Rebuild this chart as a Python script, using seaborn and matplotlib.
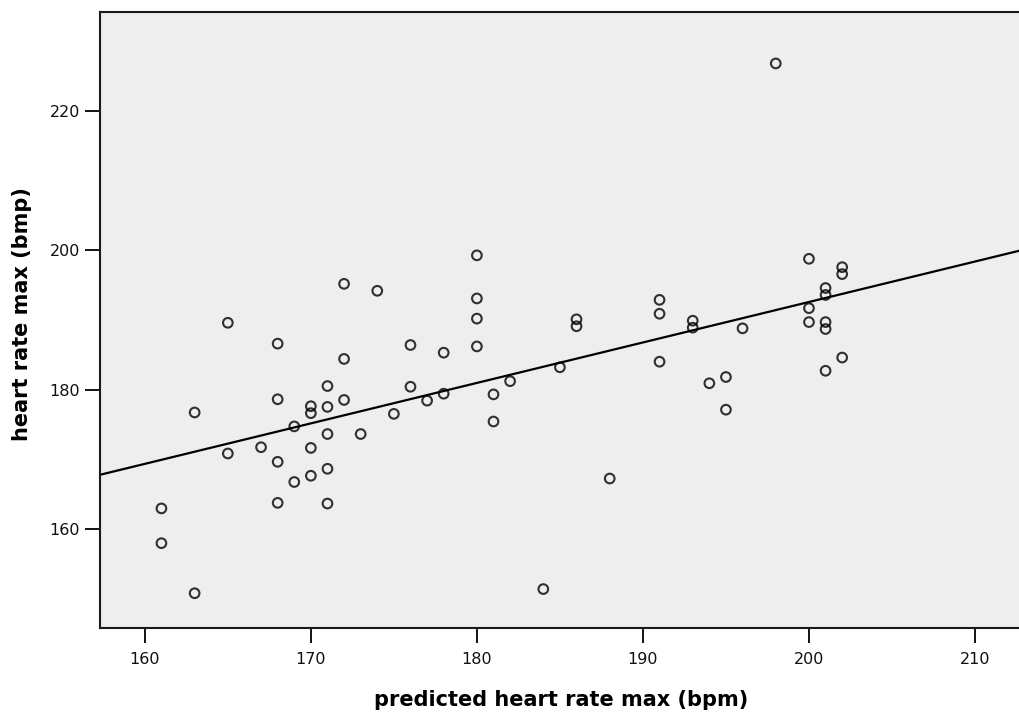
import numpy as np
import pandas as pd
import seaborn as sns
import matplotlib.pyplot as plt

# values
predicted_max = [161, 161, 163, 163, 165, 165, 167, 168, 168, 168, 168,
                 169, 169, 170, 170, 170, 170, 171, 171, 171, 171, 171,
                 172, 172, 172, 173, 174, 175, 176, 176, 177, 178, 178,
                 180, 180, 180, 180, 181, 181, 182, 184, 185, 186, 186,
                 188, 191, 191, 191, 193, 193, 194, 195, 195, 196, 198,
                 200, 200, 200, 201, 201, 201, 201, 201, 202, 202, 202]
measured_max = [162.9, 157.9, 176.7, 150.7, 189.6, 170.8, 171.7, 186.6, 178.6, 169.6, 163.7,
                174.7, 166.7, 177.6, 176.6, 171.6, 167.6, 180.5, 177.5, 173.6, 168.6, 163.6,
                195.2, 184.4, 178.5, 173.6, 194.2, 176.5, 186.4, 180.4, 178.4, 185.3, 179.4,
                199.3, 193.1, 190.2, 186.2, 179.3, 175.4, 181.2, 151.3, 183.2, 190.1, 189.1,
                167.2, 192.9, 190.9, 184.0, 189.9, 188.9, 180.9, 181.8, 177.1, 188.8, 226.9,
                198.8, 191.7, 189.7, 194.6, 193.6, 189.7, 188.7, 182.7, 197.6, 196.6, 184.6]

df = pd.DataFrame({'predicted': predicted_max, 'measured': measured_max})

sns.set_style('ticks')
plt.rcParams['font.family'] = ['DejaVu Sans']

fig = plt.figure(figsize=(10.19, 7.15), dpi=100)
ax = fig.add_axes([100 / 1019, 87 / 715, 1 - 100 / 1019, (628 - 12) / 715])
ax.set_facecolor('#eeeeee')
ax.set_xlim(157.3, 212.65)
ax.set_ylim(145.7, 234.3)

# scatter + least squares line, line runs across the whole axis
sns.regplot(data=df, x='predicted', y='measured', ax=ax, ci=None, truncate=False,
            scatter_kws=dict(s=48, facecolors='none', edgecolors='black', linewidths=1.5),
            line_kws=dict(color='black', lw=1.6))

ax.set_xlim(157.3, 212.65)
ax.set_ylim(145.7, 234.3)
ax.set_xticks([160, 170, 180, 190, 200, 210])
ax.set_yticks([160, 180, 200, 220])
ax.tick_params(direction='out', length=11, width=1.3, labelsize=11.5,
               colors='black', labelcolor='#111111')
ax.tick_params(axis='x', pad=6)
ax.tick_params(axis='y', pad=3.5)

for side in ['left', 'bottom', 'top']:
    ax.spines[side].set_linewidth(1.5)
    ax.spines[side].set_color('#1a1a1a')
ax.spines['right'].set_visible(False)

ax.set_xlabel('predicted heart rate max (bpm)', fontsize=15, fontweight='bold',
              color='black', va='center')
ax.set_ylabel('heart rate max (bmp)', fontsize=15, fontweight='bold',
              color='black', va='center')
ax.xaxis.set_label_coords(0.502, -0.117)
ax.yaxis.set_label_coords(-0.085, 0.51)

plt.savefig('out.png', dpi=100)
